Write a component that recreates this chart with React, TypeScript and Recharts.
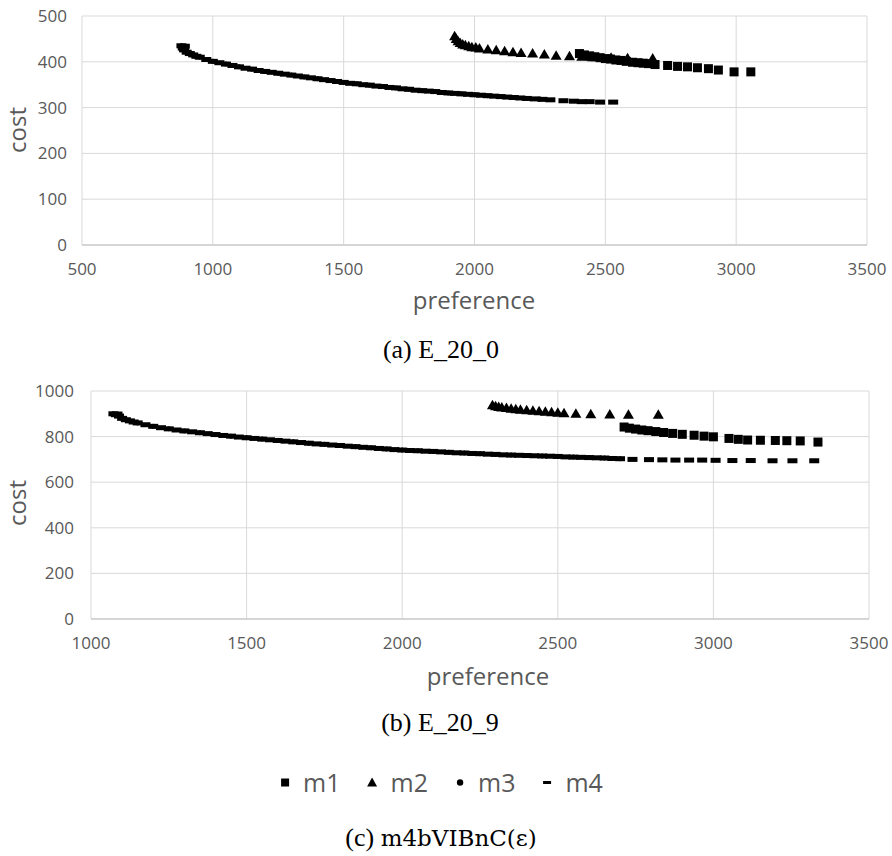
import React from 'react';
import { ScatterChart, Scatter, XAxis, YAxis, CartesianGrid } from 'recharts';

type Pt = [number, number];

// (a) E_20_0
const aM1: Pt[] = [
  [2401, 418], [2420, 415], [2440, 413], [2460, 411], [2480, 409], [2500, 407],
  [2520, 406], [2540, 404], [2560, 403], [2580, 401], [2604, 399], [2625, 398],
  [2645, 397], [2665, 396], [2690, 394], [2738, 392], [2776, 390], [2814, 389],
  [2852, 387], [2894, 385], [2932, 382], [2992, 378], [3056, 378],
];
const aM2: Pt[] = [
  [1924, 456], [1930, 450], [1937, 445], [1945, 441], [1955, 438], [1965, 436],
  [1978, 434], [1990, 432], [2005, 431], [2019, 429], [2051, 427], [2083, 425],
  [2115, 423], [2147, 421], [2178, 419], [2222, 418], [2267, 416], [2312, 413],
  [2363, 412], [2410, 411], [2450, 410], [2522, 409], [2585, 408], [2681, 407],
];
const aM3: Pt[] = [
  [880, 435], [900, 421], [950, 410], [1000, 401], [1050, 395], [1100, 389],
  [1150, 384], [1200, 379], [1250, 375], [1300, 371], [1350, 367], [1400, 363],
  [1450, 359], [1500, 355], [1550, 352], [1600, 349], [1650, 346], [1700, 343],
  [1750, 340], [1800, 337], [1850, 335], [1900, 332], [1950, 330], [2000, 328],
  [2050, 326], [2100, 324], [2150, 322], [2200, 320], [2250, 319],
];
const aM4: Pt[] = [
  [880, 435], [893, 434], [885, 430], [890, 426], [900, 421], [912, 418],
  [925, 415], [937, 412], [950, 410], [975, 405], [1000, 401], [1025, 398],
  [1050, 395], [1075, 392], [1100, 389], [1125, 386], [1150, 384], [1175, 381],
  [1200, 379], [1225, 377], [1250, 375], [1275, 373], [1300, 371], [1325, 369],
  [1350, 367], [1375, 365], [1400, 363], [1425, 361], [1450, 359], [1475, 357],
  [1500, 355], [1525, 353], [1550, 352], [1575, 350], [1600, 349], [1625, 347],
  [1650, 346], [1675, 344], [1700, 343], [1725, 341], [1750, 340], [1775, 338],
  [1800, 337], [1825, 336], [1850, 335], [1875, 333], [1900, 332], [1925, 331],
  [1950, 330], [1975, 329], [2000, 328], [2025, 327], [2050, 326], [2075, 325],
  [2100, 324], [2125, 323], [2150, 322], [2175, 321], [2200, 320], [2230, 319],
  [2260, 318], [2290, 317], [2340, 315], [2380, 314], [2410, 313], [2440, 313],
  [2480, 312], [2530, 312],
];

// (b) E_20_9
const bM1: Pt[] = [
  [2713, 842], [2730, 837], [2750, 833], [2770, 829], [2790, 826], [2815, 822],
  [2840, 818], [2869, 814], [2900, 810], [2938, 806], [2970, 802], [3000, 799],
  [3050, 792], [3080, 788], [3110, 785], [3151, 784], [3199, 783], [3236, 782],
  [3279, 781], [3336, 776],
];
const bM2: Pt[] = [
  [2290, 937], [2300, 933], [2310, 930], [2320, 928], [2335, 925], [2350, 922],
  [2365, 920], [2380, 918], [2400, 916], [2420, 913], [2440, 911], [2460, 909],
  [2480, 907], [2500, 905], [2520, 902], [2558, 900], [2606, 898], [2667, 897],
  [2727, 896], [2823, 896],
];
const bM3: Pt[] = [
  [1072, 900], [1100, 880], [1150, 860], [1200, 845], [1250, 834], [1300, 825],
  [1350, 817], [1400, 809], [1450, 802], [1500, 795], [1550, 789], [1600, 783],
  [1650, 777], [1700, 771], [1750, 766], [1800, 761], [1850, 756], [1900, 751],
  [1950, 746], [2000, 741], [2050, 738], [2100, 735], [2150, 731], [2200, 728],
  [2250, 725], [2300, 722], [2350, 719], [2400, 717], [2450, 715], [2500, 713],
  [2550, 710], [2600, 708], [2650, 706], [2700, 703],
];
const bM4: Pt[] = [
  [1072, 900], [1085, 899], [1080, 896], [1090, 890], [1100, 880], [1112, 874],
  [1125, 869], [1137, 864], [1150, 860], [1175, 852], [1200, 845], [1225, 839],
  [1250, 834], [1275, 829], [1300, 825], [1325, 821], [1350, 817], [1375, 813],
  [1400, 809], [1425, 805], [1450, 802], [1475, 798], [1500, 795], [1525, 792],
  [1550, 789], [1575, 786], [1600, 783], [1625, 780], [1650, 777], [1675, 774],
  [1700, 771], [1725, 768], [1750, 766], [1775, 763], [1800, 761], [1825, 758],
  [1850, 756], [1875, 753], [1900, 751], [1925, 748], [1950, 746], [1975, 743],
  [2000, 741], [2025, 739], [2050, 738], [2075, 736], [2100, 735], [2125, 733],
  [2150, 731], [2175, 729], [2200, 728], [2225, 726], [2250, 725], [2275, 723],
  [2300, 722], [2325, 720], [2350, 719], [2375, 718], [2400, 717], [2425, 716],
  [2450, 715], [2475, 714], [2500, 713], [2525, 711], [2550, 710], [2575, 709],
  [2600, 708], [2625, 707], [2650, 706], [2675, 704], [2700, 703], [2740, 700],
  [2793, 699], [2836, 698], [2878, 697], [2922, 697], [2964, 697], [3007, 696],
  [3061, 695], [3120, 695], [3190, 694], [3254, 694], [3324, 694],
];

const aXTicks = [500, 1000, 1500, 2000, 2500, 3000, 3500];
const aYTicks = [0, 100, 200, 300, 400, 500];
const bXTicks = [1000, 1500, 2000, 2500, 3000, 3500];
const bYTicks = [0, 200, 400, 600, 800, 1000];

const toPts = (arr: Pt[]) => arr.map(([x, y]) => ({ x, y }));

const GRAY = '#595959';
const SANS = '"Open Sans", "Liberation Sans", sans-serif';
const SERIF = '"Liberation Serif", "DejaVu Serif", serif';

const squareShape = (p: any) => (
  <rect x={p.cx - 4.5} y={p.cy - 4.5} width={9} height={9} fill="#000" />
);
const triangleShape = (p: any) => (
  <polygon
    points={`${p.cx},${p.cy - 5.5} ${p.cx + 5.5},${p.cy + 4} ${p.cx - 5.5},${p.cy + 4}`}
    fill="#000"
  />
);
const circleShape = (p: any) => <circle cx={p.cx} cy={p.cy} r={2.5} fill="#000" />;
const dashShape = (p: any) => (
  <rect x={p.cx - 5} y={p.cy - 2.5} width={10} height={5} fill="#000" />
);

interface PanelProps {
  top: number;
  yAxisWidth: number;
  margin: { top: number; right: number; bottom: number; left: number };
  xDomain: [number, number];
  yDomain: [number, number];
  xTicks: number[];
  yTicks: number[];
  yTickMargin: number;
  m1: Pt[];
  m2: Pt[];
  m3: Pt[];
  m4: Pt[];
}

function Panel({ top, yAxisWidth, margin, xDomain, yDomain, xTicks, yTicks, yTickMargin, m1, m2, m3, m4 }: PanelProps) {
  const tickStyle = { fill: GRAY, fontSize: 17, fontFamily: SANS };
  return (
    <div style={{ position: 'absolute', left: 0, top }}>
      <ScatterChart width={892} height={300} margin={margin}>
        <CartesianGrid stroke="#d9d9d9" strokeWidth={1} />
        <XAxis
          type="number"
          dataKey="x"
          domain={xDomain}
          ticks={xTicks}
          allowDataOverflow
          height={30}
          tickLine={false}
          tickMargin={12}
          axisLine={{ stroke: '#bfbfbf' }}
          tick={tickStyle}
        />
        <YAxis
          type="number"
          dataKey="y"
          domain={yDomain}
          ticks={yTicks}
          allowDataOverflow
          width={yAxisWidth}
          tickLine={false}
          tickMargin={yTickMargin}
          axisLine={false}
          tick={tickStyle}
        />
        <Scatter name="m1" data={toPts(m1)} shape={squareShape} isAnimationActive={false} />
        <Scatter name="m2" data={toPts(m2)} shape={triangleShape} isAnimationActive={false} />
        <Scatter name="m3" data={toPts(m3)} shape={circleShape} isAnimationActive={false} />
        <Scatter name="m4" data={toPts(m4)} shape={dashShape} isAnimationActive={false} />
      </ScatterChart>
    </div>
  );
}

function AxisTitle({ text, x, y, rotate }: { text: string; x: number; y: number; rotate?: boolean }) {
  return (
    <div
      style={{
        position: 'absolute',
        left: x,
        top: y,
        transform: `translate(-50%, -50%)${rotate ? ' rotate(-90deg)' : ''}`,
        fontFamily: SANS,
        fontSize: 24,
        color: GRAY,
        lineHeight: 1,
        whiteSpace: 'nowrap',
      }}
    >
      {text}
    </div>
  );
}

function Caption({ children, x, y }: { children: React.ReactNode; x: number; y: number }) {
  return (
    <div
      style={{
        position: 'absolute',
        left: x,
        top: y,
        transform: 'translate(-50%, -50%)',
        fontFamily: SERIF,
        fontSize: 26,
        color: '#000',
        lineHeight: 1,
        whiteSpace: 'nowrap',
      }}
    >
      {children}
    </div>
  );
}

const legendItems = [
  { name: 'm1', icon: <rect x={2} y={2} width={8} height={8} fill="#000" /> },
  { name: 'm2', icon: <polygon points="6,1 11,10 1,10" fill="#000" /> },
  { name: 'm3', icon: <circle cx={6} cy={6} r={3.2} fill="#000" /> },
  { name: 'm4', icon: <rect x={2} y={4.5} width={8} height={3} fill="#000" /> },
];

export default function App() {
  return (
    <div style={{ position: 'absolute', left: 0, top: 0, width: 892, height: 856, background: '#fff' }}>
      <Panel
        top={0}
        yAxisWidth={50}
        margin={{ top: 16, right: 25, bottom: 25, left: 32 }}
        xDomain={[500, 3500]}
        yDomain={[0, 500]}
        xTicks={aXTicks}
        yTicks={aYTicks}
        yTickMargin={9}
        m1={aM1}
        m2={aM2}
        m3={aM3}
        m4={aM4}
      />
      <AxisTitle text="cost" x={17} y={130} rotate />
      <AxisTitle text="preference" x={474} y={300} />
      <Caption x={441} y={350}>(a) E_20_0</Caption>

      <Panel
        top={375}
        yAxisWidth={59}
        margin={{ top: 16, right: 23, bottom: 26, left: 32 }}
        xDomain={[1000, 3500]}
        yDomain={[0, 1000]}
        xTicks={bXTicks}
        yTicks={bYTicks}
        yTickMargin={11}
        m1={bM1}
        m2={bM2}
        m3={bM3}
        m4={bM4}
      />
      <AxisTitle text="cost" x={17} y={503} rotate />
      <AxisTitle text="preference" x={488} y={676} />
      <Caption x={440} y={723}>(b) E_20_9</Caption>

      <div
        style={{
          position: 'absolute',
          left: 441,
          top: 782,
          transform: 'translate(-50%, -50%)',
          display: 'flex',
          alignItems: 'center',
          gap: 26,
          fontFamily: SANS,
          fontSize: 25,
          color: GRAY,
          lineHeight: 1,
          whiteSpace: 'nowrap',
        }}
      >
        {legendItems.map((it) => (
          <span key={it.name} style={{ display: 'flex', alignItems: 'center', gap: 12 }}>
            <svg width={12} height={12}>{it.icon}</svg>
            <span>{it.name}</span>
          </span>
        ))}
      </div>

      <Caption x={441} y={838}>
        (c) <span style={{ fontFamily: '"DejaVu Serif", serif', fontSize: 23 }}>m4bVIBnC(ε)</span>
      </Caption>
    </div>
  );
}
